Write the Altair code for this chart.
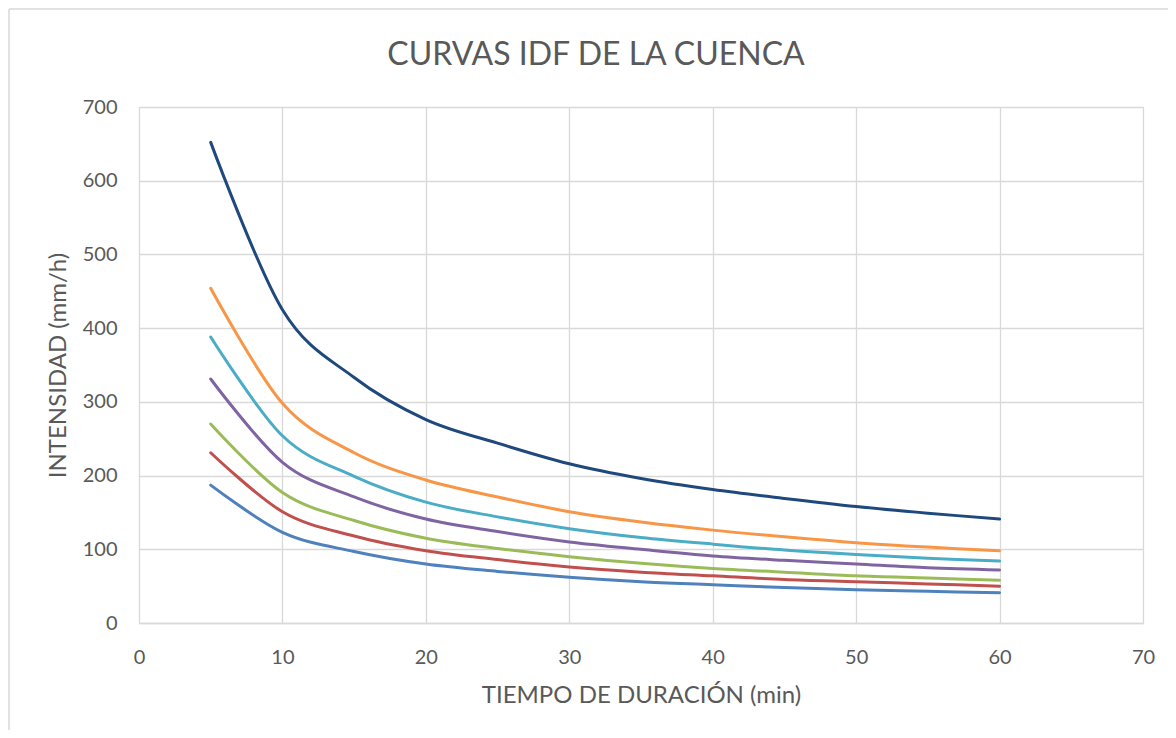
import altair as alt
import pandas as pd

# Durations (min)
durations = [5, 10, 15, 20, 25, 30, 35, 40, 45, 50, 55, 60]

# Series names (return periods) and their intensities (mm/h)
series_names = ["T = 2 años", "T = 5 años", "T = 10 años", "T = 25 años",
                "T = 50 años", "T = 100 años", "T = 500 años"]
i_t2 = [187, 123, 97, 80, 70, 62, 56, 52, 48, 45, 43, 41]
i_t5 = [231, 151, 118, 98, 86, 76, 69, 64, 59, 56, 53, 50]
i_t10 = [270, 177, 139, 115, 101, 90, 81, 74, 69, 64, 61, 58]
i_t25 = [331, 218, 171, 141, 124, 110, 100, 91, 85, 80, 75, 72]
i_t50 = [388, 254, 199, 164, 144, 128, 116, 107, 99, 93, 88, 84]
i_t100 = [454, 298, 231, 194, 171, 151, 137, 126, 117, 109, 103, 98]
i_t500 = [652, 425, 333, 276, 244, 216, 196, 181, 169, 158, 149, 141]
series_values = [i_t2, i_t5, i_t10, i_t25, i_t50, i_t100, i_t500]

colors = ["#4F81BD", "#C0504D", "#9BBB59", "#8064A2", "#4BACC6", "#F79646", "#1F497D"]

x_ticks = [0, 10, 20, 30, 40, 50, 60, 70]
y_ticks = [0, 100, 200, 300, 400, 500, 600, 700]

rows = []
for name, vals in zip(series_names, series_values):
    for d, v in zip(durations, vals):
        rows.append({"Duracion": d, "Intensidad": v, "Serie": name})
df = pd.DataFrame(rows)

FONT = "Lato"
TXT = "#595959"
GRID = "#D9D9D9"

lines = alt.Chart(df).mark_line(
    interpolate="cardinal", strokeWidth=3, strokeCap="round", strokeJoin="round"
).encode(
    x=alt.X("Duracion:Q",
            scale=alt.Scale(domain=[0, 70], nice=False, zero=False),
            axis=alt.Axis(values=x_ticks, title="TIEMPO DE DURACIÓN (min)",
                          grid=True, gridColor=GRID, gridWidth=1.3,
                          ticks=False, domain=True, domainColor=GRID, domainWidth=1.3,
                          labelFont=FONT, labelFontSize=20, labelColor=TXT,
                          labelPadding=40, labelBaseline="alphabetic",
                          labelFlush=False, labelOverlap=False,
                          titleFont=FONT, titleFontSize=24, titleFontWeight="normal",
                          titleColor=TXT, titleBaseline="alphabetic", titleY=79)),
    y=alt.Y("Intensidad:Q",
            scale=alt.Scale(domain=[0, 700], nice=False),
            axis=alt.Axis(values=y_ticks, title="INTENSIDAD (mm/h)",
                          grid=True, gridColor=GRID, gridWidth=1.3,
                          ticks=False, domain=False,
                          labelFont=FONT, labelFontSize=20, labelColor=TXT,
                          labelPadding=22, labelOverlap=False,
                          titleFont=FONT, titleFontSize=24, titleFontWeight="normal",
                          titleColor=TXT, titleBaseline="alphabetic",
                          titleX=-74, titleY=258)),
    color=alt.Color("Serie:N", scale=alt.Scale(domain=series_names, range=colors), legend=None),
)

frame_df = pd.DataFrame({"k": [0]})
frame_left = alt.Chart(frame_df).mark_rule(color=GRID, strokeWidth=1.5).encode(
    x=alt.value(-130), y=alt.value(-98), y2=alt.value(640))
frame_top = alt.Chart(frame_df).mark_rule(color=GRID, strokeWidth=1.5).encode(
    x=alt.value(-130), x2=alt.value(1040), y=alt.value(-98))

chart = alt.layer(frame_left, frame_top, lines).properties(
    width=1004, height=516,
    autosize=alt.AutoSizeParams(type="none"),
    padding={"left": 131, "top": 99, "right": 25, "bottom": 107},
    title=alt.Title("CURVAS IDF DE LA CUENCA", font=FONT, fontSize=32,
                    fontWeight="normal", color=TXT, anchor="middle",
                    baseline="alphabetic", offset=26, dx=-45, dy=115),
).configure_view(stroke=None).configure(background="white")

chart.save("out.html", embed_options={"renderer": "svg", "actions": False})
